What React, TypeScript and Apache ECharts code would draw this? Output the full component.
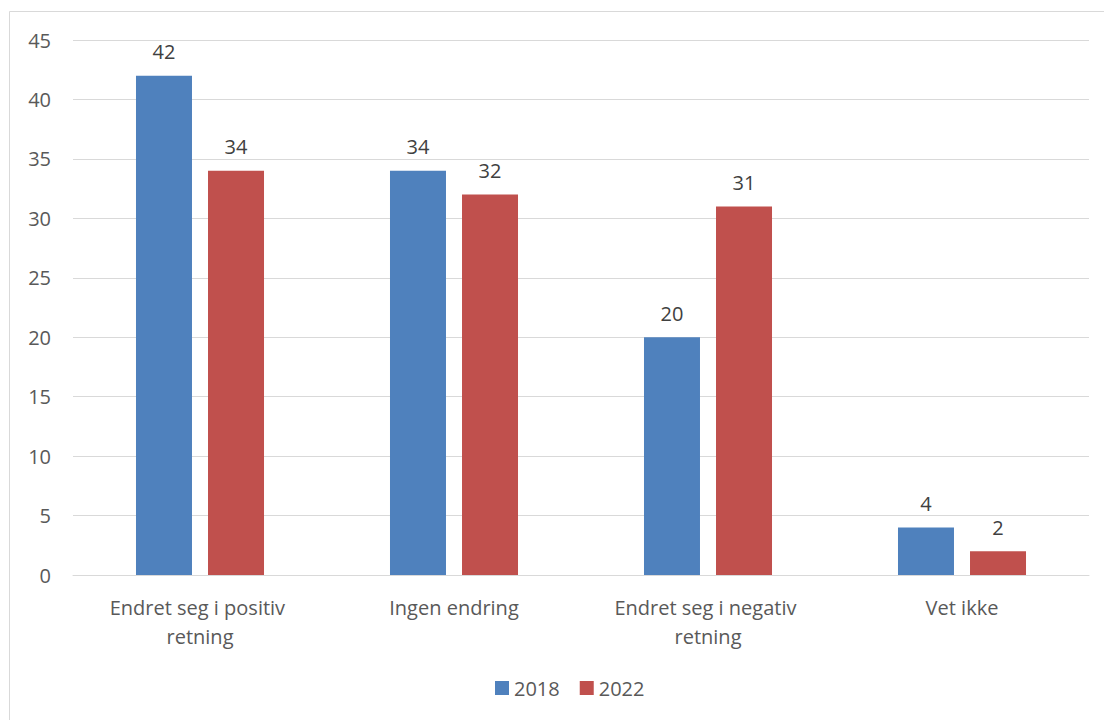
import React, { useEffect, useRef } from "react";
import * as echarts from "echarts";

const categories = [
  "Endret seg i positiv retning",
  "Ingen endring",
  "Endret seg i negativ retning",
  "Vet ikke",
];
const series2018 = [42, 34, 20, 4];
const series2022 = [34, 32, 31, 2];
const seriesNames = ["2018", "2022"];

const FONT = "'Open Sans', 'Noto Sans', sans-serif";

export default function App() {
  const ref = useRef<HTMLDivElement>(null);
  useEffect(() => {
    if (!ref.current) return;
    const chart = echarts.init(ref.current, undefined, { renderer: "svg" });
    const labelStyle = {
      show: true,
      position: "top",
      distance: 14,
      color: "#404040",
      fontSize: 20,
      fontFamily: FONT,
    };
    chart.setOption({
      animation: false,
      backgroundColor: "#fff",
      textStyle: { fontFamily: FONT },
      graphic: [
        {
          type: "rect",
          shape: { x: 9.5, y: 11.5, width: 1200, height: 800 },
          style: { fill: "none", stroke: "#d9d9d9", lineWidth: 1 },
          silent: true,
        },
      ],
      grid: { left: 73, right: 15, top: 40, bottom: 145, containLabel: false },
      legend: {
        data: seriesNames,
        bottom: 17,
        left: 490,
        itemWidth: 14,
        itemHeight: 14,
        itemGap: 20,
        icon: "rect",
        textStyle: { color: "#595959", fontSize: 20, fontFamily: FONT },
      },
      xAxis: {
        type: "category",
        data: categories,
        axisLine: { lineStyle: { color: "#d9d9d9", width: 1 } },
        axisTick: { show: false },
        axisLabel: {
          color: "#595959",
          fontSize: 20,
          fontFamily: FONT,
          margin: 18,
          lineHeight: 29,
          width: 220,
          overflow: "break",
          interval: 0,
        },
      },
      yAxis: {
        type: "value",
        min: 0,
        max: 45,
        interval: 5,
        axisLine: { show: false },
        axisTick: { show: false },
        splitLine: { lineStyle: { color: "#d9d9d9", width: 1 } },
        axisLabel: { color: "#595959", fontSize: 20, fontFamily: FONT, margin: 22 },
      },
      series: [
        {
          name: seriesNames[0],
          type: "bar",
          data: series2018,
          barWidth: 56,
          barGap: "28.6%",
          itemStyle: { color: "#4F81BD" },
          label: labelStyle,
        },
        {
          name: seriesNames[1],
          type: "bar",
          data: series2022,
          barWidth: 56,
          itemStyle: { color: "#C0504D" },
          label: labelStyle,
        },
      ],
    });
    return () => chart.dispose();
  }, []);
  return (
    <div
      ref={ref}
      style={{ position: "absolute", left: 0, top: 0, width: 1104, height: 720 }}
    />
  );
}
